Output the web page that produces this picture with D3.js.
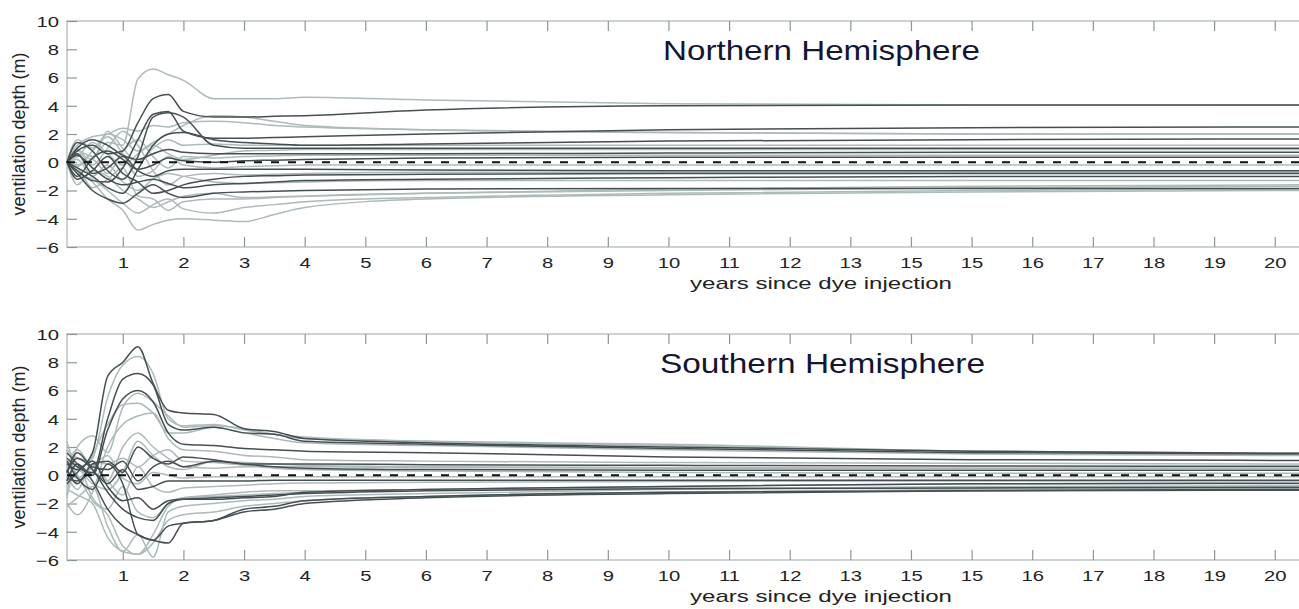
<!DOCTYPE html>
<html>
<head>
<meta charset="utf-8">
<script src="https://cdn.jsdelivr.net/npm/d3@7"></script>
<style>
  body { margin: 0; background: #fff; }
  svg { display: block; }
</style>
</head>
<body>
<svg id="chart" width="1299" height="609"></svg>
<script>
// sample times (years) shared by every curve
let years = [0.08, 0.25, 0.5, 0.75, 1, 1.25, 1.5, 1.75, 2, 2.5, 3, 3.5, 4, 6, 10, 15, 20.4];
let tickYears = [1, 2, 3, 4, 5, 6, 7, 8, 9, 10, 11, 12, 13, 14, 15, 16, 17, 18, 19, 20];
// the original figure really prints "15" at the 14 tick
let tickLabels = ["1", "2", "3", "4", "5", "6", "7", "8", "9", "10", "11", "12", "13", "15", "15", "16", "17", "18", "19", "20"];
let depthTicks = [-6, -4, -2, 0, 2, 4, 6, 8, 10];
let titles = ["Northern Hemisphere", "Southern Hemisphere"];

// northern hemisphere, dark curves
let northDark = [
  [0, 0.8, 1.2, 0.6, 0.8, 2.8, 4.5, 4.8, 3.6, 3.2, 3.2, 3.25, 3.3, 3.7, 4.0, 4.05, 4.05],
  [0, -0.6, -1.3, -1.4, -0.4, 1.6, 3.4, 3.6, 2.2, 1.7, 1.7, 1.75, 1.8, 2.0, 2.3, 2.45, 2.5],
  [0, -0.4, -1.0, -1.8, -2.2, -0.5, 1.2, 2.0, 2.1, 1.6, 1.4, 1.3, 1.2, 1.3, 1.5, 1.6, 1.65],
  [0, 1.4, 0.8, -0.6, -1.2, 0.4, 3.2, 3.5, 3.2, 1.2, 1.0, 1.0, 1.0, 1.0, 1.0, 1.0, 1.0],
  [0, -0.8, -2.0, -2.6, -2.9, -2.2, -1.6, -2.2, -2.5, -2.2, -2.1, -2.05, -2.0, -1.9, -1.85, -1.85, -1.85],
  [0, 0.5, -0.4, -1.2, -1.6, -1.4, -1.2, -1.5, -1.8, -1.6, -1.5, -1.4, -1.3, -1.2, -1.1, -1.0, -1.0],
  [0, 1.0, 1.6, 1.2, 0.5, 0.2, 0.6, 0.9, 0.7, 0.6, 0.6, 0.6, 0.6, 0.6, 0.65, 0.7, 0.7],
  [0, -1.0, 0.3, 0.8, 0.2, -0.5, -0.2, 0.3, 0.1, 0.0, 0.1, 0.15, 0.2, 0.3, 0.35, 0.35, 0.35],
  [0, 0.6, -0.8, -0.4, 0.4, -0.6, -1.0, -0.6, -0.5, -0.5, -0.5, -0.5, -0.5, -0.55, -0.6, -0.6, -0.6],
  [0, -1.2, -0.6, 0.4, -0.8, -1.4, -2.2, -2.0, -1.6, -1.2, -1.0, -0.95, -0.9, -0.85, -0.8, -0.8, -0.8]
];
// northern hemisphere, light curves
let northLight = [
  [0, 0.8, 0.4, 1.4, 1.2, 5.9, 6.6, 6.2, 5.8, 4.5, 4.5, 4.5, 4.6, 4.4, 4.15, 4.05, 4.05],
  [0, -0.6, -1.4, -2.6, -3.4, -4.8, -4.4, -4.1, -4.0, -4.1, -4.2, -3.7, -3.2, -2.6, -2.3, -2.1, -2.0],
  [0, 1.2, 1.8, 2.0, 2.4, 2.2, 2.6, 2.5, 2.8, 2.9, 2.8, 2.6, 2.5, 2.3, 2.1, 2.0, 2.0],
  [0, -0.8, -1.2, -2.0, -2.9, -3.6, -3.0, -2.6, -3.3, -3.6, -3.2, -3.0, -2.8, -2.5, -2.2, -2.0, -1.9],
  [0, 1.6, 1.0, 2.0, 1.6, 0.8, 1.4, 2.0, 2.6, 3.3, 3.2, 2.9, 2.6, 2.3, 2.1, 2.0, 2.0],
  [0, -1.6, -0.6, -1.0, -2.0, -2.6, -3.2, -2.8, -2.4, -2.2, -2.5, -2.45, -2.4, -2.2, -1.9, -1.7, -1.6],
  [0, 0.4, 1.4, 0.6, -0.2, 0.6, 1.2, 0.6, 0.2, 0.5, 0.8, 0.85, 0.9, 0.9, 0.9, 0.9, 0.9],
  [0, -0.3, 0.8, 1.8, 0.6, -1.0, -0.6, 0.4, -0.2, -0.4, -0.3, -0.25, -0.2, -0.2, -0.2, -0.2, -0.2],
  [0, 0.2, -1.0, -0.2, -1.4, -2.0, -1.2, -0.8, -1.0, -1.4, -1.5, -1.45, -1.4, -1.3, -1.3, -1.3, -1.3],
  [0, -0.2, 0.2, -0.8, 0.8, 1.6, 0.4, -0.4, 0.4, 0.3, 0.4, 0.45, 0.5, 0.5, 0.5, 0.5, 0.5],
  [0, 0.9, -0.2, 1.0, 2.2, 1.2, -0.6, -1.6, -1.0, -0.8, -0.9, -0.85, -0.8, -0.7, -0.7, -0.7, -0.7],
  [0, -0.4, -1.8, -1.2, -0.4, -2.4, -2.6, -3.4, -2.8, -2.6, -2.6, -2.5, -2.4, -2.2, -2.0, -1.8, -1.7],
  [0, 0.6, 0.2, 2.2, 1.0, 0.0, 1.0, 1.6, 1.2, 1.3, 1.2, 1.2, 1.2, 1.2, 1.2, 1.2, 1.2]
];
// southern hemisphere, dark curves
let southDark = [
  [0.8, 0.4, 1.6, 7.0, 8.0, 9.1, 6.5, 4.6, 4.4, 4.3, 3.3, 3.1, 2.6, 2.3, 2.0, 1.7, 1.55],
  [1.2, 0.6, 0.2, 4.0, 6.8, 7.2, 6.4, 3.6, 3.2, 3.4, 3.0, 2.9, 2.4, 2.2, 1.9, 1.6, 1.5],
  [-0.4, 0.8, 0.0, 3.2, 5.4, 6.0, 5.2, 3.0, 2.2, 2.1, 1.9, 1.8, 1.7, 1.6, 1.3, 1.1, 1.05],
  [0.4, -0.6, 0.8, 1.0, 0.2, 2.0, 1.2, 0.8, 1.3, 1.1, 0.8, 0.8, 0.8, 0.75, 0.7, 0.65, 0.64],
  [1.6, 0.8, -0.4, -2.4, -3.6, -4.2, -4.6, -3.6, -3.4, -3.2, -2.6, -2.4, -2.0, -1.6, -1.3, -1.1, -1.06],
  [0.2, 1.2, 0.4, -1.2, -2.4, -3.0, -3.2, -2.0, -1.7, -1.6, -1.5, -1.4, -1.3, -1.1, -0.95, -0.9, -0.85],
  [-0.6, 0.2, 1.0, -0.8, -1.8, -1.6, -2.4, -1.8, -1.7, -1.7, -1.6, -1.5, -1.2, -1.0, -0.8, -0.6, -0.57],
  [1.0, -0.2, -1.0, 0.8, -0.6, -4.2, -4.6, -4.8, -3.4, -3.2, -2.4, -2.2, -1.8, -1.5, -1.2, -1.1, -1.0],
  [0.2, 1.6, 0.6, 0.4, 1.0, -0.4, 0.6, 1.0, 0.6, 1.0, 0.8, 0.6, 0.5, 0.4, 0.35, 0.35, 0.35],
  [-0.2, -0.4, 0.2, -0.6, 0.4, -1.0, -0.8, -0.4, -0.4, -0.4, -0.4, -0.35, -0.35, -0.35, -0.35, -0.35, -0.35]
];
// southern hemisphere, light curves
let southLight = [
  [2.4, 0.6, 1.2, 5.5, 7.8, 8.4, 7.2, 4.0, 3.5, 3.6, 3.2, 2.9, 2.6, 2.4, 2.2, 1.7, 1.55],
  [-1.6, 2.0, 2.8, 1.6, 4.8, 5.8, 5.2, 4.2, 3.4, 3.5, 3.3, 2.9, 2.7, 2.4, 2.1, 1.7, 1.55],
  [0.0, -1.0, 1.4, 3.6, 5.0, 5.1, 4.4, 3.0, 3.0, 3.4, 3.0, 2.6, 2.3, 2.1, 1.8, 1.5, 1.4],
  [-2.0, -2.8, -1.2, 2.0, 3.6, 4.2, 4.4, 2.6, 1.8, 1.7, 1.4, 1.3, 1.1, 1.0, 0.9, 0.85, 0.8],
  [0.6, 1.8, 0.4, -0.4, 2.0, 3.0, 2.0, 1.2, 0.6, 0.5, 0.6, 0.6, 0.6, 0.55, 0.5, 0.5, 0.5],
  [-1.0, -1.4, -2.0, -4.4, -5.4, -5.6, -4.8, -3.2, -2.8, -2.6, -2.2, -2.0, -1.8, -1.5, -1.2, -1.0, -0.95],
  [-2.2, -1.6, -0.8, -3.6, -5.4, -4.2, -5.8, -2.6, -2.2, -2.0, -1.8, -1.7, -1.5, -1.3, -1.0, -0.8, -0.75],
  [1.0, 0.0, -1.8, -2.8, -5.0, -5.6, -4.2, -2.2, -1.6, -1.5, -1.4, -1.3, -1.2, -1.0, -0.8, -0.6, -0.6],
  [-1.4, 0.4, -0.6, -1.0, 0.2, 2.4, 1.4, 0.6, 0.4, 1.0, 0.9, 0.8, 0.7, 0.6, 0.55, 0.5, 0.5],
  [0.4, -0.6, 0.8, -0.4, -1.4, 0.6, -0.8, -1.2, -0.9, -0.8, -0.7, -0.6, -0.55, -0.5, -0.45, -0.4, -0.4],
  [-0.8, 0.8, -1.6, -2.4, -0.8, -2.6, -3.0, -2.0, -1.6, -1.4, -1.2, -1.1, -1.1, -1.0, -0.9, -0.9, -0.9],
  [1.8, 1.2, 1.0, 0.8, 1.2, 0.6, 1.4, 1.8, 1.0, 0.9, 0.7, 0.5, 0.4, 0.3, 0.2, 0.15, 0.15],
  [0.2, -0.2, 0.6, 1.4, -0.2, -0.6, 0.2, 0.0, -0.2, -0.1, -0.1, -0.1, -0.1, -0.1, -0.1, -0.1, -0.1]
];

let font = "'Liberation Sans', Arial, Helvetica, sans-serif";
let svg = d3.select("#chart");

// shared horizontal scale
let x = d3.scaleLinear().domain([0.08, 20.4]).range([67, 1299]);

// draw one hemisphere panel
function drawPanel(top, title, titleX, titleW, dark, light) {
    let y = d3.scaleLinear().domain([-6, 10]).range([top + 226, top]);
    let g = svg.append("g");

    let line = d3.line()
        .x(function (d, i) { return x(years[i]); })
        .y(function (d) { return y(d); })
        .curve(d3.curveMonotoneX);

    // frame
    g.append("rect")
    .attr("x", 67)
    .attr("y", top)
    .attr("width", 1240)
    .attr("height", 226)
    .attr("fill", "none")
    .attr("stroke", "#bcc4c4")
    .attr("stroke-width", 1.5);

    // inward ticks, bottom with labels, top without
    let bottomAxis = d3.axisBottom(x)
        .tickValues(tickYears)
        .tickSizeInner(-10)
        .tickSizeOuter(0)
        .tickPadding(10)
        .tickFormat(function (d, i) { return tickLabels[i]; });
    let ax = g.append("g").attr("transform", "translate(0," + y(-6) + ")").call(bottomAxis);
    let topAxis = d3.axisTop(x).tickValues(tickYears).tickSizeInner(-10).tickSizeOuter(0).tickFormat("");
    let at = g.append("g").attr("transform", "translate(0," + y(10) + ")").call(topAxis);
    let leftAxis = d3.axisLeft(y).tickValues(depthTicks).tickSizeInner(-10).tickSizeOuter(0).tickPadding(8);
    let al = g.append("g").attr("transform", "translate(67,0)").call(leftAxis);

    [ax, at, al].forEach(function (a) {
        a.select(".domain").remove();
        a.selectAll(".tick line").attr("stroke", "#8a9696").attr("stroke-width", 1.2);
        a.selectAll("text")
        .attr("fill", "#222")
        .style("font-family", font)
        .style("font-size", "15px");
    });
    // the figure's glyphs are wide, stretch them
    ax.selectAll("text").attr("transform", "scale(1.35,1)");
    al.selectAll("text").attr("transform", "scale(1.35,1)").attr("x", -6).attr("dy", "0.36em");

    // light curves under dark curves
    light.forEach(function (d) {
        g.append("path")
        .attr("d", line(d))
        .attr("fill", "none")
        .attr("stroke", "#adbaba")
        .attr("stroke-width", 1.5);
    });
    dark.forEach(function (d) {
        g.append("path")
        .attr("d", line(d))
        .attr("fill", "none")
        .attr("stroke", "#454f53")
        .attr("stroke-width", 1.5);
    });

    // zero reference
    g.append("line")
    .attr("x1", x(0.08))
    .attr("x2", 1299)
    .attr("y1", y(0))
    .attr("y2", y(0))
    .attr("stroke", "#111")
    .attr("stroke-width", 2)
    .attr("stroke-dasharray", "8,9");

    // panel title
    g.append("text")
    .attr("x", titleX)
    .attr("y", top + 39)
    .attr("textLength", titleW)
    .attr("lengthAdjust", "spacingAndGlyphs")
    .style("font-family", font)
    .style("font-size", "28px")
    .attr("fill", "#151530")
    .text(title);

    // axis labels
    g.append("text")
    .attr("x", 690)
    .attr("y", top + 268)
    .attr("textLength", 262)
    .attr("lengthAdjust", "spacingAndGlyphs")
    .style("font-family", font)
    .style("font-size", "17px")
    .attr("fill", "#222")
    .text("years since dye injection");

    g.append("text")
    .attr("transform", "translate(25," + (top + 113) + ") rotate(-90)")
    .attr("text-anchor", "middle")
    .style("font-family", font)
    .style("font-size", "18px")
    .attr("fill", "#222")
    .text("ventilation depth (m)");
}

drawPanel(21, titles[0], 663, 317, northDark, northLight);
drawPanel(334, titles[1], 660, 325, southDark, southLight);
</script>
</body>
</html>
